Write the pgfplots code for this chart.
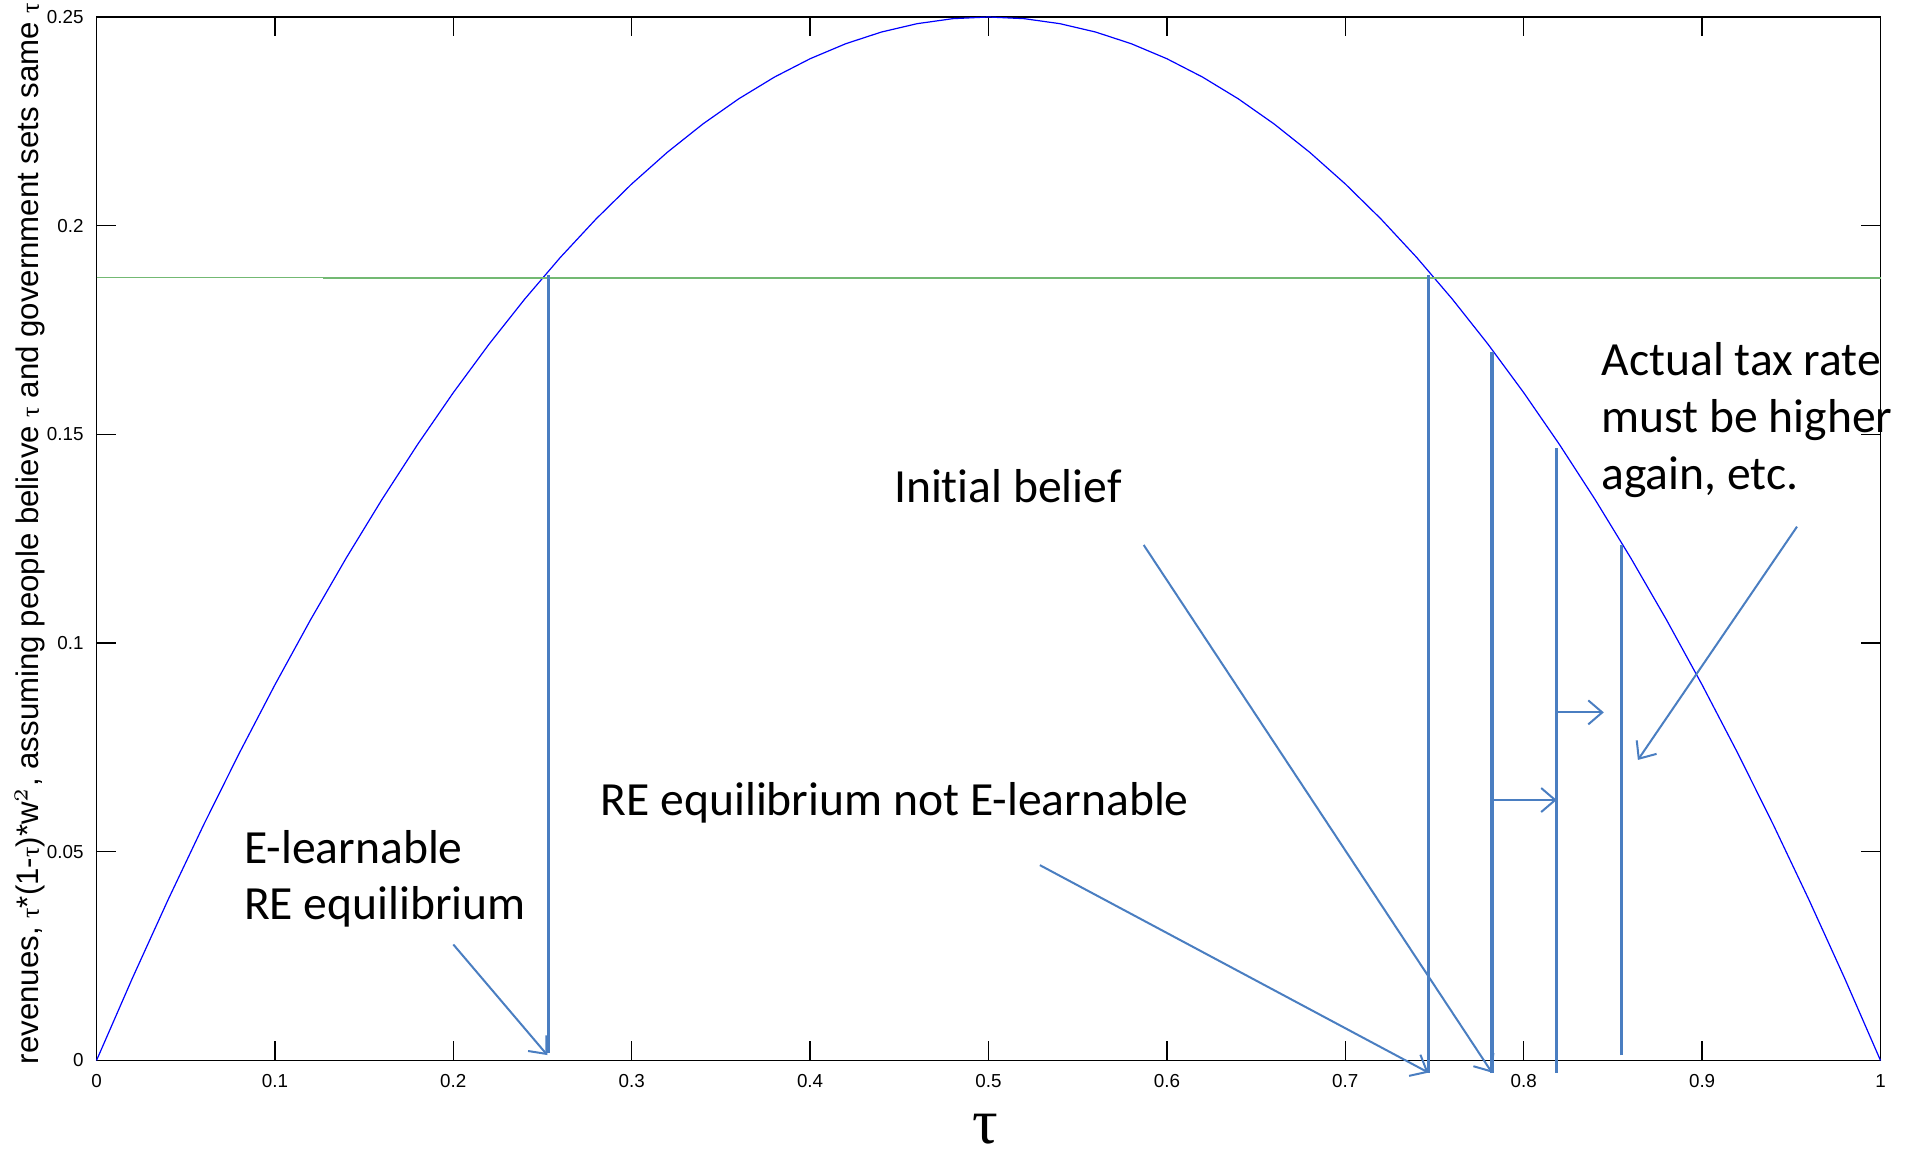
\documentclass[border=0pt]{standalone}
\usepackage{fontspec}
\setmainfont{Carlito}[Ligatures=NoCommon]
\newfontfamily\arialfont{Liberation Sans}
\newfontfamily\timesfont{Liberation Serif}
\usepackage{pgfplots}
\pgfplotsset{compat=1.18}
\usetikzlibrary{arrows.meta,calc}
\definecolor{pptblue}{RGB}{74,126,193}
\definecolor{mgreen}{RGB}{115,185,115}
\begin{document}
\begin{tikzpicture}
\useasboundingbox (-24.125pt,-23.375pt) rectangle (454.875pt,265.125pt);
\begin{axis}[
  at={(0pt,0pt)}, anchor=south west,
  scale only axis, width=446pt, height=260.875pt,
  xmin=0, xmax=1, ymin=0, ymax=0.25,
  clip=false,
  axis line style={line width=0.45pt},
  tick align=inside,
  major tick length=4.8pt,
  tick style={black, line width=0.35pt},
  xtick={0,0.1,0.2,0.3,0.4,0.5,0.6,0.7,0.8,0.9,1},
  xticklabels={0,0.1,0.2,0.3,0.4,0.5,0.6,0.7,0.8,0.9,1},
  ytick={0,0.05,0.1,0.15,0.2,0.25},
  yticklabels={0,0.05,0.1,0.15,0.2,0.25},
  ticklabel style={font=\arialfont\fontsize{4.7}{5}\selectfont},
  yticklabel style={xshift=0.3pt},
  /pgf/number format/assume math mode=true,
]
% revenue curve tau*(1-tau)
\addplot[blue, line width=0.3pt] coordinates {
(0,0) (0.02,0.0196) (0.04,0.0384) (0.06,0.0564) (0.08,0.0736) (0.10,0.09)
(0.12,0.1056) (0.14,0.1204) (0.16,0.1344) (0.18,0.1476) (0.20,0.16)
(0.22,0.1716) (0.24,0.1824) (0.26,0.1924) (0.28,0.2016) (0.30,0.21)
(0.32,0.2176) (0.34,0.2244) (0.36,0.2304) (0.38,0.2356) (0.40,0.24)
(0.42,0.2436) (0.44,0.2464) (0.46,0.2484) (0.48,0.2496) (0.50,0.25)
(0.52,0.2496) (0.54,0.2484) (0.56,0.2464) (0.58,0.2436) (0.60,0.24)
(0.62,0.2356) (0.64,0.2304) (0.66,0.2244) (0.68,0.2176) (0.70,0.21)
(0.72,0.2016) (0.74,0.1924) (0.76,0.1824) (0.78,0.1716) (0.80,0.16)
(0.82,0.1476) (0.84,0.1344) (0.86,0.1204) (0.88,0.1056) (0.90,0.09)
(0.92,0.0736) (0.94,0.0564) (0.96,0.0384) (0.98,0.0196) (1,0)
};
% government level
\addplot[mgreen, line width=0.3pt] coordinates {(0,0.1875) (0.127,0.1875)};
\addplot[mgreen, line width=0.5pt] coordinates {(0.127,0.1875) (1,0.1875)};
% vertical lines
\addplot[pptblue, line width=0.8pt] coordinates {(0.2534,0.0018) (0.2534,0.1882)};
\addplot[pptblue, line width=0.8pt] coordinates {(0.7466,-0.0029) (0.7466,0.1882)};
\addplot[pptblue, line width=0.8pt] coordinates {(0.7822,-0.0029) (0.7822,0.1698)};
\addplot[pptblue, line width=0.8pt] coordinates {(0.8185,-0.0029) (0.8185,0.1467)};
\addplot[pptblue, line width=0.8pt] coordinates {(0.8548,0.0012) (0.8548,0.1235)};
% arrows
\addplot[pptblue, line width=0.5pt, -{Straight Barb[length=3.5pt,width=6pt]}] coordinates {(0.2,0.0278) (0.2527,0.0013)};
\addplot[pptblue, line width=0.5pt, -{Straight Barb[length=3.5pt,width=6pt]}] coordinates {(0.5288,0.0468) (0.7466,-0.0029)};
\addplot[pptblue, line width=0.5pt, -{Straight Barb[length=3.5pt,width=6pt]}] coordinates {(0.587,0.1235) (0.7822,-0.0029)};
\addplot[pptblue, line width=0.5pt, -{Straight Barb[length=3.5pt,width=6pt]}] coordinates {(0.9532,0.1279) (0.8640,0.0720)};
\addplot[pptblue, line width=0.5pt, -{Straight Barb[length=3.5pt,width=6pt]}] coordinates {(0.7822,0.0624) (0.8185,0.0624)};
\addplot[pptblue, line width=0.5pt, -{Straight Barb[length=3.5pt,width=6pt]}] coordinates {(0.8185,0.0834) (0.8449,0.0834)};
% annotations
\tikzset{ann/.style={font=\fontsize{11.9}{13}\selectfont, anchor=base west, inner sep=0pt}}
\node[ann] at (axis cs:0.0823,0.0473) {E-learnable};
\node[ann] at (axis cs:0.0823,0.0337) {RE equilibrium};
\node[ann] at (axis cs:0.4466,0.1336) {Initial belief};
\node[ann] at (axis cs:0.2822,0.0588) {RE equilibrium not E-learnable};
\node[ann] at (axis cs:0.8432,0.1640) {Actual tax rate};
\node[ann] at (axis cs:0.8432,0.1504) {must be higher};
\node[ann] at (axis cs:0.8432,0.1367) {again, etc.};
% axis labels
\node[font=\timesfont\fontsize{16}{16}\selectfont, inner sep=0pt] at ($(rel axis cs:0.498,0)+(0,-20.3pt)$) {τ};
\node[rotate=90, inner sep=0pt, font=\arialfont\fontsize{7.8}{8}\selectfont] at ($(rel axis cs:0,0.4935)+(-16.6pt,0)$)
  {revenues, {\timesfont\fontsize{6.5}{7}\selectfont τ}*(1-{\timesfont\fontsize{6.5}{7}\selectfont τ})*w$^2$, assuming people believe {\timesfont\fontsize{6.5}{7}\selectfont τ} and government sets same {\timesfont\fontsize{6.5}{7}\selectfont τ}};
\end{axis}
\end{tikzpicture}
\end{document}
